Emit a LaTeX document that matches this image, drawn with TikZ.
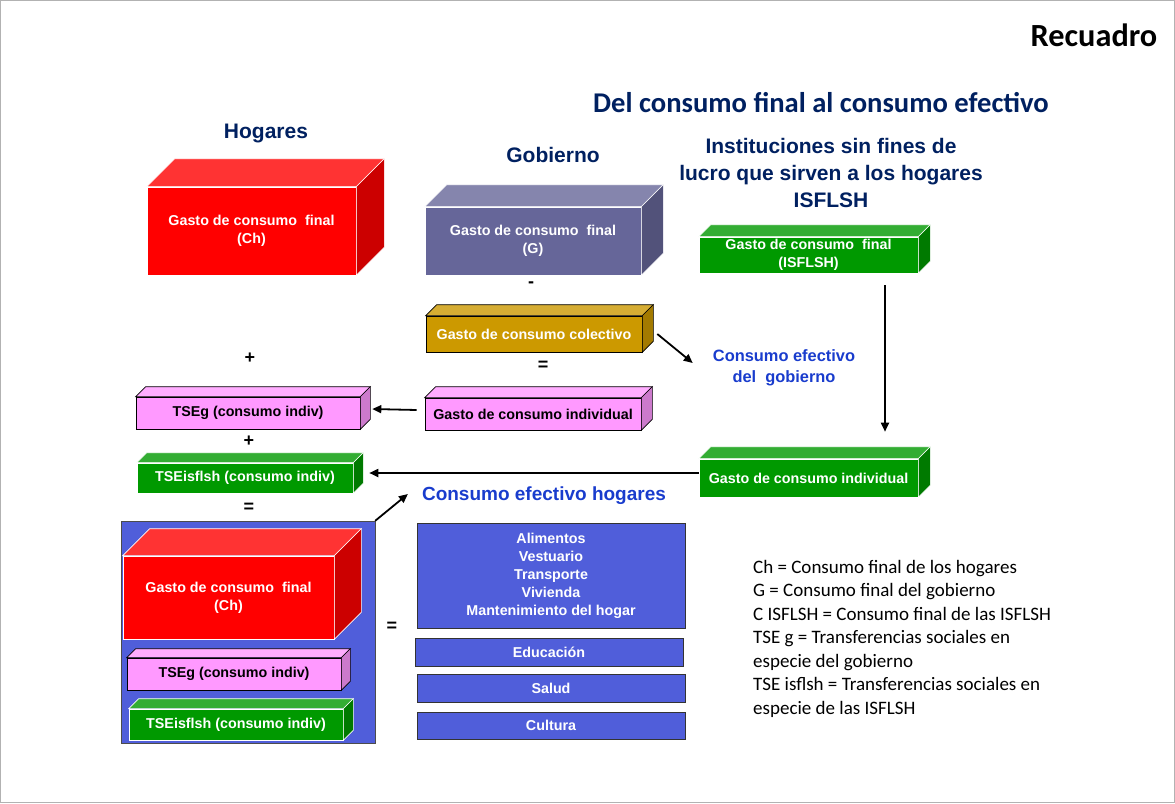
\documentclass[tikz,border=0pt]{standalone}
\usepackage{fontspec}
\setsansfont{Liberation Sans}
\newfontfamily\calibri{Carlito}
\usetikzlibrary{arrows.meta}
\definecolor{rojo}{HTML}{FF0000}
\definecolor{morado}{HTML}{666699}
\definecolor{dorado}{HTML}{CC9900}
\definecolor{rosa}{HTML}{FF99FF}
\definecolor{verde}{HTML}{009900}
\definecolor{azul}{RGB}{80,94,218}
\definecolor{marino}{HTML}{002060}
\definecolor{azulfuerte}{RGB}{25,60,205}

% caja 3D: nombre, centro, ancho, alto, fondo, color, opciones, texto
\newcommand{\caja}[8]{%
  \node[frente, fill=#6, #7, minimum width=#3pt, minimum height=#4pt] (#1) at (#2) {#8};
  \filldraw[fill=#6!80!white, #7] (#1.north west) -- ++(#5,-#5) -- ([shift={(#5,-#5)}]#1.north east) -- (#1.north east) -- cycle;
  \filldraw[fill=#6!80!black, #7] (#1.north east) -- ++(#5,-#5) -- ([shift={(#5,-#5)}]#1.south east) -- (#1.south east) -- cycle;
}

\begin{document}
\begin{tikzpicture}[x=1pt,y=-1pt,
    frente/.style = {inner sep=0pt, align=center, line width=0.6pt, font=\sffamily\bfseries\fontsize{14.3}{18}\selectfont},
    claro/.style = {draw=white!60, text=white, line width=0.6pt},
    oscuro/.style = {draw=black, text=black, line width=0.6pt},
    lista/.style = {draw=black!80, fill=azul, text=white, minimum width=268pt, inner sep=0pt, align=center, font=\sffamily\bfseries\fontsize{14.3}{18}\selectfont},
    encabezado/.style = {text=marino, align=center, inner sep=0pt, font=\sffamily\bfseries\fontsize{21}{27}\selectfont},
    efectivo/.style = {text=azulfuerte, align=center, inner sep=0pt},
    signo/.style = {inner sep=0pt, font=\sffamily\bfseries\fontsize{18}{18}\selectfont},
    flecha/.style = {line width=1.8pt, -{Triangle[length=9pt,width=8pt]}}]
    \useasboundingbox (0,0) rectangle (1175,803);
    \draw[gray!60, line width=1pt] (0.5,0.5) rectangle (1174.5,802.5);

    \node[inner sep=0pt, font=\calibri\bfseries\fontsize{32.3}{32}\selectfont] (recuadro) at (1094,35) {Recuadro};
    \node[inner sep=0pt, text=marino, font=\calibri\bfseries\fontsize{28.6}{28}\selectfont] (titulo) at (821,103) {Del consumo final al consumo efectivo};
    \node[encabezado] (hogares) at (266,133) {Hogares};
    \node[encabezado] (gobierno) at (553,155) {Gobierno};
    \node[encabezado] (isflsh) at (831,173) {Instituciones sin fines de\\lucro que sirven a los hogares\\ISFLSH};

    \caja{ch}{251.5,231}{209}{88}{28}{rojo}{claro}{Gasto de consumo~ final\\(Ch)}
    \caja{g}{533,241}{216}{68}{22}{morado}{claro}{Gasto de consumo~ final\\(G)}
    \caja{colect}{534,334}{216}{36}{11}{dorado}{draw=black, text=white, line width=0.6pt}{Gasto de consumo colectivo}
    \caja{gobind}{533,414}{216}{32}{11}{rosa}{oscuro}{Gasto de consumo individual}
    \caja{isf}{808.5,255}{219}{36}{12}{verde}{claro}{Gasto de consumo~ final\\(ISFLSH)}
    \caja{gind}{808.5,478}{219}{38}{12}{verde}{claro}{Gasto de consumo individual}
    \caja{tseg}{248,413}{224}{32}{10}{rosa}{oscuro}{TSEg (consumo indiv)}
    \caja{tseisf}{245,478}{216}{30}{10}{verde}{claro}{TSEisflsh (consumo indiv)}

    \node[draw=black!70, fill=azul, minimum width=254pt, minimum height=222pt] (hogar) at (248,632) {};
    \caja{ch2}{228.5,597.5}{211}{83}{27}{rojo}{claro}{Gasto de consumo~ final\\(Ch)}
    \caja{tseg2}{234,674}{214}{32}{9}{rosa}{oscuro}{TSEg (consumo indiv)}
    \caja{tseisf2}{236,724.5}{214}{31}{10}{verde}{claro}{TSEisflsh (consumo indiv)}

    \foreach \x/\y/\h/\t [count=\i] in {551/575.5/105/{Alimentos\\Vestuario\\Transporte\\Vivienda\\Mantenimiento del hogar},
        549/652/28/Educación, 551/688/28/Salud, 551/725.5/27/Cultura}
        \node[lista, minimum height=\h pt] (rubro\i) at (\x,\y) {\t};

    \foreach \x/\y/\s [count=\i] in {250/358/+, 531/285/-, 543/366/=, 249/441/+, 249/508/=, 392/627/=}
        \node[signo] (signo\i) at (\x,\y) {\s};

    \node[efectivo, font=\sffamily\bfseries\fontsize{16.4}{21}\selectfont] (cgob) at (784,368) {Consumo efectivo\\del~ gobierno};
    \node[efectivo, font=\sffamily\bfseries\fontsize{19}{19}\selectfont] (ceh) at (544,496) {Consumo efectivo hogares};

    \draw[flecha] ([xshift=15pt]colect.east) -- ([shift={(-20,-5)}]cgob.west);
    \draw[flecha] ([shift={(76.5,12)}]isf.south) -- ([shift={(76.5,-27)}]gind.north);
    \draw[flecha] ([shift={(-8,-4)}]gobind.west) -- ([shift={(12,-4)}]tseg.east);
    \draw[flecha] ([shift={(0,-5)}]gind.west) -- ([shift={(16,-5)}]tseisf.east);
    \draw[flecha] (hogar.north east) -- ([shift={(-14,-2)}]ceh.west);

    \node[anchor=north west, align=left, inner sep=0pt, font=\calibri\fontsize{19}{23.5}\selectfont] (leyenda) at (753,560)
        {Ch = Consumo final de los hogares\\G = Consumo final del gobierno\\C ISFLSH = Consumo final de las ISFLSH\\TSE g = Transferencias sociales en\\especie del gobierno\\TSE isflsh = Transferencias sociales en\\especie de las ISFLSH};
\end{tikzpicture}
\end{document}
